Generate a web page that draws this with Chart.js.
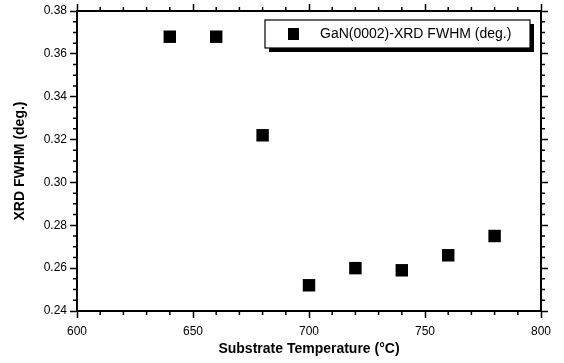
<!DOCTYPE html>
<html>
<head>
<meta charset="utf-8">
<script src="https://cdn.jsdelivr.net/npm/chart.js@4"></script>
<style>
  body { margin: 0; background: #fff; }
  canvas { display: block; }
</style>
</head>
<body>
<canvas id="chart" width="564" height="363"></canvas>
<script>
const temperatures = [640, 660, 680, 700, 720, 740, 760, 780];
const fwhm = [0.368, 0.368, 0.322, 0.252, 0.260, 0.259, 0.266, 0.275];
const seriesLabel = "GaN(0002)-XRD FWHM (deg.)";
const xTitle = "Substrate Temperature (\u00B0C)";
const yTitle = "XRD FWHM (deg.)";

const FONT = "'Liberation Sans', Arial, sans-serif";

// minor ticks + framed legend with drop shadow
const extras = {
  id: "extras",
  afterDraw(chart) {
    const { ctx, chartArea: a, scales } = chart;
    const x = scales.x, y = scales.y;
    ctx.save();
    ctx.strokeStyle = "#000";
    ctx.lineWidth = 1.5;
    ctx.beginPath();
    for (let v = 600; v <= 800; v += 10) {
      if (v % 50 === 0) continue;
      const px = x.getPixelForValue(v);
      ctx.moveTo(px, a.bottom); ctx.lineTo(px, a.bottom + 4);
      ctx.moveTo(px, a.top); ctx.lineTo(px, a.top - 4);
    }
    for (let i = 0; i <= 28; i++) {
      if (i % 4 === 0) continue;
      const py = y.getPixelForValue(0.24 + i * 0.005);
      ctx.moveTo(a.left, py); ctx.lineTo(a.left - 4, py);
      ctx.moveTo(a.right, py); ctx.lineTo(a.right + 4, py);
    }
    ctx.stroke();

    // legend
    const bx = 265, by = 20, bw = 265, bh = 28;
    ctx.fillStyle = "#000";
    ctx.fillRect(bx + 4, by + 4, bw, bh);
    ctx.fillStyle = "#fff";
    ctx.fillRect(bx, by, bw, bh);
    ctx.lineWidth = 1.2;
    ctx.strokeRect(bx, by, bw, bh);
    ctx.fillStyle = "#000";
    ctx.fillRect(288, 28, 11, 12);
    ctx.font = "14px " + FONT;
    ctx.textBaseline = "middle";
    ctx.textAlign = "left";
    ctx.fillText(seriesLabel, 320, 34);
    ctx.restore();
  }
};

const axisCommon = {
  type: "linear",
  border: { display: true, color: "#000", width: 2 },
  grid: { drawOnChartArea: false, drawTicks: true, tickLength: 7, tickColor: "#000", tickWidth: 1.5 },
};

new Chart(document.getElementById("chart"), {
  type: "scatter",
  data: {
    datasets: [{
      label: seriesLabel,
      data: temperatures.map((t, i) => ({ x: t, y: fwhm[i] })),
      pointStyle: "rect",
      pointRadius: 8.8,
      pointHoverRadius: 8.8,
      backgroundColor: "#000",
      borderColor: "#000",
      borderWidth: 0,
    }],
  },
  options: {
    responsive: false,
    animation: false,
    layout: { padding: 0 },
    plugins: { legend: { display: false }, tooltip: { enabled: false } },
    scales: {
      x: {
        ...axisCommon,
        position: "bottom",
        min: 600, max: 800,
        ticks: { stepSize: 50, color: "#000", font: { family: FONT, size: 12 }, padding: 6, maxRotation: 0 },
        title: { display: true, text: xTitle, color: "#000", font: { family: FONT, size: 14, weight: "bold" }, padding: { bottom: 5 } },
        afterFit(s) { s.height = 52; },
      },
      y: {
        ...axisCommon,
        position: "left",
        min: 0.24, max: 0.38,
        ticks: { stepSize: 0.02, color: "#000", font: { family: FONT, size: 12 }, padding: 3, callback: v => v.toFixed(2) },
        title: { display: true, text: yTitle, color: "#000", font: { family: FONT, size: 14, weight: "bold" }, padding: { top: 12 } },
        afterFit(s) { s.width = 77; },
      },
      x2: {
        ...axisCommon,
        position: "top",
        min: 600, max: 800,
        ticks: { stepSize: 50, display: false },
        afterFit(s) { s.height = 11; },
      },
      y2: {
        ...axisCommon,
        position: "right",
        min: 0.24, max: 0.38,
        ticks: { stepSize: 0.02, display: false },
        afterFit(s) { s.width = 23; },
      },
    },
  },
  plugins: [extras],
});
</script>
</body>
</html>
